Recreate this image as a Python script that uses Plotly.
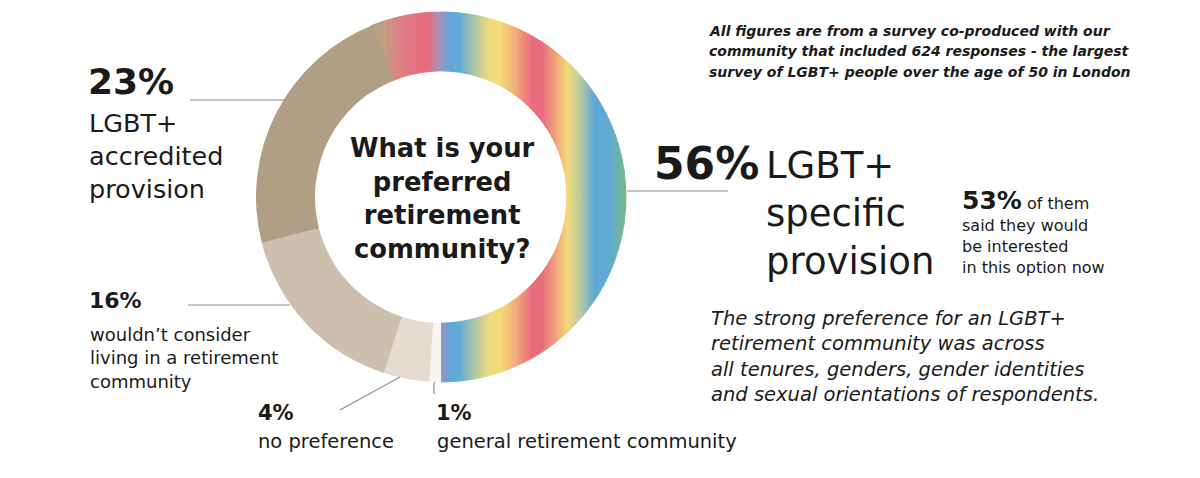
import numpy as np
import plotly.graph_objects as go

# ---------------- data ----------------
categories = [
    "LGBT+ specific provision",
    "general retirement community",
    "no preference",
    "wouldn't consider living in a retirement community",
    "LGBT+ accredited provision",
]
values = [56, 1, 4, 16, 23]
pct_labels = ["56%", "1%", "4%", "16%", "23%"]

# ---------------- style ----------------
W, H = 1200, 478
CX, CY, R = 441, 197, 185
HOLE = 0.681
R_IN = R * HOLE
FONT = "DejaVu Sans"
slice_colors = ["rgba(0,0,0,0)", "#f8f4f0", "#e4dacf", "#cdbfad", "#b19f85"]

# rainbow stripe palette (position as fraction of radius from centre, colour)
rainbow_stops = [
    (-0.40, "#8fb47c"), (-0.303, "#c49a80"), (-0.222, "#dc8080"),
    (-0.070, "#e8687b"), (-0.005, "#a493c0"), (0.059, "#5ba8d9"),
    (0.108, "#66acd4"), (0.178, "#aac5a6"), (0.265, "#efda7c"),
    (0.324, "#f3da78"), (0.411, "#f1a87a"), (0.492, "#ea6e7c"),
    (0.546, "#e96a7b"), (0.616, "#f09e7b"), (0.686, "#f2d879"),
    (0.757, "#b8cba0"), (0.832, "#5ca8d9"), (0.914, "#60aad3"),
    (1.01, "#7bba7d"),
]


def hex2rgb(h):
    h = h.lstrip("#")
    return np.array([int(h[i:i + 2], 16) for i in (0, 2, 4)], dtype=float)


stop_u = np.array([s[0] for s in rainbow_stops])
stop_c = np.array([hex2rgb(s[1]) for s in rainbow_stops])


def rainbow(u):
    c = [np.interp(u, stop_u, stop_c[:, k]) for k in range(3)]
    return "rgb(%d,%d,%d)" % tuple(int(round(v)) for v in c)


total = sum(values)
rotation = 180 - values[0] / total * 360  # first slice ends at 6 o'clock

fig = go.Figure()

# ---- rainbow fill of the first slice (vertical stripes clipped to the ring) ----
start_x = CX + R * np.sin(np.radians(rotation)) - 2
step = 1.5


def piece(x0, x1, bottom):
    s = np.linspace(x0, x1, 4)
    d = s - CX
    outer = np.sqrt(np.clip(R ** 2 - d ** 2, 0, None))
    inner = np.sqrt(np.clip(R_IN ** 2 - d ** 2, 0, None))
    px = list(s) + list(s[::-1]) + [s[0]]
    X = list(px)
    Y = list(CY - outer) + list((CY - inner)[::-1]) + [CY - outer[0]]
    if bottom:
        X += [None] + px
        Y += [None] + list(CY + outer) + list((CY + inner)[::-1]) + [CY + outer[0]]
    return X, Y


edges = []
x = start_x
while x < CX:
    edges.append((x, min(x + step, CX), False))
    x += step
x = CX
while x < CX + R:
    edges.append((x, min(x + step, CX + R), True))
    x += step

for x0, x1, bottom in edges:
    X, Y = piece(x0, x1, bottom)
    c = rainbow(((x0 + x1) / 2 - CX) / R)
    fig.add_trace(go.Scatter(
        x=X, y=Y, mode="lines", fill="toself", fillcolor=c,
        line=dict(color=c, width=0.8), hoverinfo="skip", showlegend=False,
    ))

# ---- the doughnut ----
fig.add_trace(go.Pie(
    values=values, labels=categories, sort=False, direction="clockwise",
    rotation=rotation, hole=HOLE, textinfo="none",
    marker=dict(colors=slice_colors, line=dict(width=0)),
    domain=dict(x=[(CX - R) / W, (CX + R) / W],
                y=[1 - (CY + R) / H, 1 - (CY - R) / H]),
    showlegend=False, hoverinfo="label+percent",
))

# ---------------- text ----------------
ann = []


def t(x, y, text, size, anchor="left", align="left", color="#1a1a1a"):
    ann.append(dict(x=x, y=y, xref="x", yref="y", text=text, showarrow=False,
                    xanchor=anchor, yanchor="middle", align=align,
                    font=dict(family=FONT, size=size, color=color)))


# left: 23%
t(86, 81, "<b>%s</b>" % pct_labels[4], 36)
t(87, 156, "LGBT+<br>accredited<br>provision", 25.5)

# left: 16%
t(87, 300, "<b>%s</b>" % pct_labels[3], 22)
t(88, 358, "wouldn\u2019t consider<br>living in a retirement<br>community", 18)

# bottom: 4% and 1%
t(256, 413, "<b>%s</b>" % pct_labels[2], 21)
t(256, 441, "no preference", 19.5)
t(434, 413, "<b>%s</b>" % pct_labels[1], 21)
t(435, 441, "general retirement community", 19.5)

# right: 56%
t(652, 163, "<b>%s</b>" % pct_labels[0], 44)
t(764, 213, "LGBT+<br>specific<br>provision", 37)

t(960, 200, "<b>53%</b><span style='font-size:16px'> of them</span>", 25)
t(960, 246, "said they would<br>be interested<br>in this option now", 16)

# centre question
t(442, 198, "<b>What is your<br>preferred<br>retirement<br>community?</b>", 25.8,
  anchor="center", align="center")

# top-right note
for yy, line in zip([31, 51, 72], [
        "All figures are from a survey co-produced with our",
        "community that included 624 responses - the largest",
        "survey of LGBT+ people over the age of 50 in London"]):
    t(707, yy, "<b><i>%s</i></b>" % line, 14)

# bottom-right note
t(709, 356, "<i>The strong preference for an LGBT+<br>retirement community was across"
  "<br>all tenures, genders, gender identities<br>and sexual orientations of respondents.</i>",
  19.5)

# leader lines
lc = dict(color="#8c8c8c", width=1.2)
shapes = [
    dict(type="line", xref="x", yref="y", x0=190, y0=100, x1=286, y1=100, line=lc),
    dict(type="line", xref="x", yref="y", x0=188, y0=305, x1=290, y1=305, line=lc),
    dict(type="line", xref="x", yref="y", x0=340, y0=410, x1=400, y1=377, line=lc),
    dict(type="line", xref="x", yref="y", x0=434, y0=382, x1=434, y1=394, line=lc),
    dict(type="line", xref="x", yref="y", x0=627, y0=191, x1=728, y1=191, line=lc),
]

fig.update_layout(
    width=W, height=H, margin=dict(l=0, r=0, t=0, b=0),
    paper_bgcolor="white", plot_bgcolor="white", showlegend=False,
    xaxis=dict(range=[0, W], visible=False, fixedrange=True),
    yaxis=dict(range=[H, 0], visible=False, fixedrange=True),
    annotations=ann, shapes=shapes,
)

fig.write_html("out.html")
